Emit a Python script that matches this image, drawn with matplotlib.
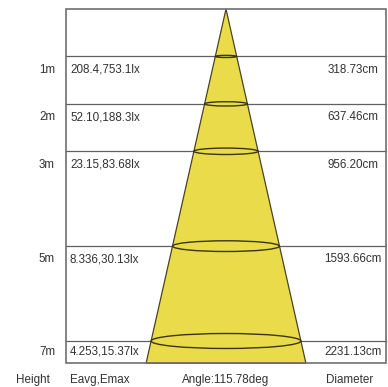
import matplotlib.pyplot as plt
from matplotlib.patches import Polygon, Ellipse, Rectangle

# Data
heights = [1, 2, 3, 5, 7]                       # m
eavg = ['208.4', '52.10', '23.15', '8.336', '4.253']
emax = ['753.1', '188.3', '83.68', '30.13', '15.37']
diameters = ['318.73', '637.46', '956.20', '1593.66', '2231.13']  # cm
angle = 115.78

# drawing layout (x in pixels, y in metres)
box_left, box_right, box_bottom = 66, 386, 7.47
apex_x = 226
spread = 10.7          # px of half-width per metre of height
text_c = '#333333'
fs = 8.4
plt.rcParams['font.family'] = ['Liberation Sans', 'DejaVu Sans']

fig = plt.figure(figsize=(3.88, 3.87), dpi=100)
ax = fig.add_axes([0, 0, 1, 1])
ax.set_xlim(0, 388)
ax.set_ylim(7.97, -0.19)
ax.axis('off')

# row lines
for h in heights:
    ax.plot([box_left, box_right], [h, h], color='#606060', lw=0.9, zorder=1)

# cone
hw = spread * box_bottom
cone = Polygon([(apex_x, 0), (apex_x - hw, box_bottom), (apex_x + hw, box_bottom)],
               closed=True, facecolor='#E9DB4A', edgecolor='#4a4420', lw=0.9, zorder=2)
ax.add_patch(cone)

for h in heights:
    w = 2 * spread * h
    ax.add_patch(Ellipse((apex_x, h), w, w * 0.1 / 47.4, fill=False,
                         edgecolor='#3a3518', lw=1.0, zorder=3))

# outer box
ax.add_patch(Rectangle((box_left, 0), box_right - box_left, box_bottom, fill=False,
                       edgecolor='#707070', lw=1.2, zorder=4))

for h, ea, em, d in zip(heights, eavg, emax, diameters):
    ty = h + 0.28 if h < 7 else h + 0.23
    ax.text(55, ty, f'{h}m', ha='right', va='center', fontsize=fs, color=text_c)
    ax.text(70, ty, f'{ea},{em}lx', ha='left', va='center', fontsize=fs, color=text_c)
    ax.text(353, ty, f'{d}cm', ha='center', va='center', fontsize=fs, color=text_c)

yb = 7.83
ax.text(33, yb, 'Height', ha='center', va='center', fontsize=fs, color=text_c)
ax.text(70, yb, 'Eavg,Emax', ha='left', va='center', fontsize=fs, color=text_c)
ax.text(apex_x, yb, f'Angle:{angle}deg', ha='center', va='center', fontsize=fs, color=text_c)
ax.text(350, yb, 'Diameter', ha='center', va='center', fontsize=fs, color=text_c)

fig.savefig('out.png', dpi=100)
